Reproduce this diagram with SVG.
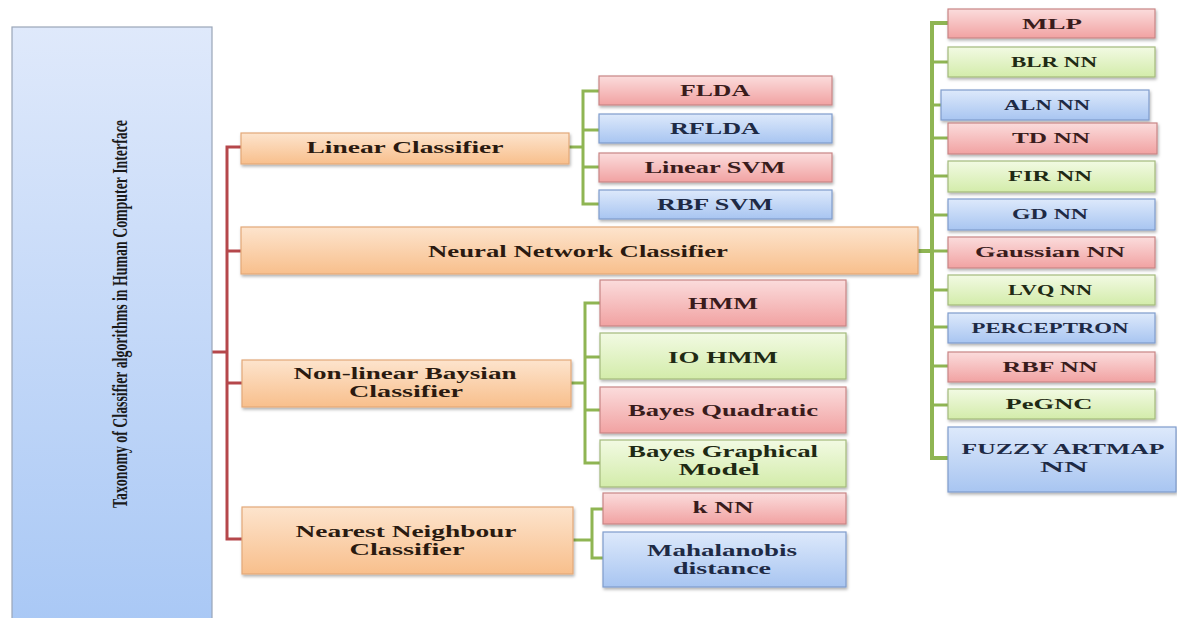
<svg xmlns="http://www.w3.org/2000/svg" width="1177" height="618" viewBox="0 0 1177 618">
<style>
.t{font-family:"Liberation Serif","Times New Roman",serif;font-weight:bold;text-anchor:middle;}
.s16{font-size:16px}
.s17{font-size:17px}
.s15{font-size:15px}
.or{fill:url(#gO);stroke:#e3a878;stroke-width:1.2;filter:url(#sh)}
.rd{fill:url(#gR);stroke:#c98585;stroke-width:1.2;filter:url(#sh)}
.bl{fill:url(#gB);stroke:#7f9ccc;stroke-width:1.2;filter:url(#sh)}
.gr{fill:url(#gG);stroke:#a3ba7c;stroke-width:1.2;filter:url(#sh)}
.tr{fill:#3a1c1c}.tb{fill:#1e2a45}.tg{fill:#1f2a14}.to{fill:#2a1a10}
.rl{stroke:#b5474b;stroke-width:3;fill:none}
.gl{stroke:#8fb553;stroke-width:3;fill:none}
</style>
<defs>
<linearGradient id="gO" x1="0" y1="0" x2="0" y2="1"><stop offset="0" stop-color="#fde4cd"/><stop offset="1" stop-color="#f8bf8c"/></linearGradient>
<linearGradient id="gR" x1="0" y1="0" x2="0" y2="1"><stop offset="0" stop-color="#fbdcdc"/><stop offset="1" stop-color="#f1a2a2"/></linearGradient>
<linearGradient id="gB" x1="0" y1="0" x2="0" y2="1"><stop offset="0" stop-color="#dde9fb"/><stop offset="1" stop-color="#a8c5f1"/></linearGradient>
<linearGradient id="gG" x1="0" y1="0" x2="0" y2="1"><stop offset="0" stop-color="#f2fae3"/><stop offset="1" stop-color="#d3ecaa"/></linearGradient>
<linearGradient id="gP" x1="0" y1="0" x2="0" y2="1"><stop offset="0" stop-color="#dfe9fb"/><stop offset="1" stop-color="#a9c8f5"/></linearGradient>
<filter id="sh" x="-5%" y="-20%" width="110%" height="150%"><feDropShadow dx="1" dy="2" stdDeviation="1.5" flood-color="#000" flood-opacity="0.3"/></filter>
</defs>
<rect width="1177" height="618" fill="#fff"/>

<g id="connectors">
<polyline class="rl" points="241,147 227,147 227,539 242,539"/>
<line class="rl" x1="212" y1="352" x2="227" y2="352"/>
<line class="rl" x1="227" y1="251" x2="241" y2="251"/>
<line class="rl" x1="227" y1="383" x2="242" y2="383"/>
<line class="gl" x1="569" y1="147" x2="583" y2="147"/>
<polyline class="gl" points="599,91 583,91 583,204 599,204"/>
<line class="gl" x1="583" y1="130" x2="599" y2="130"/>
<line class="gl" x1="583" y1="167" x2="599" y2="167"/>
<line class="gl" x1="571" y1="383" x2="585" y2="383"/>
<polyline class="gl" points="600,303 585,303 585,463 600,463"/>
<line class="gl" x1="585" y1="357" x2="600" y2="357"/>
<line class="gl" x1="585" y1="410" x2="600" y2="410"/>
<line class="gl" x1="573" y1="540" x2="592" y2="540"/>
<polyline class="gl" points="603,509 592,509 592,558 603,558"/>
<line class="gl" x1="918" y1="251" x2="932" y2="251" style="stroke-width:4"/>
<polyline class="gl" points="948,23 932,23 932,458 948,458" style="stroke-width:4"/>
<g class="gl">
<line x1="932" y1="62" x2="948" y2="62"/>
<line x1="932" y1="105" x2="941" y2="105"/>
<line x1="932" y1="138" x2="948" y2="138"/>
<line x1="932" y1="176" x2="948" y2="176"/>
<line x1="932" y1="215" x2="948" y2="215"/>
<line x1="932" y1="251" x2="948" y2="251"/>
<line x1="932" y1="290" x2="948" y2="290"/>
<line x1="932" y1="327" x2="948" y2="327"/>
<line x1="932" y1="366" x2="948" y2="366"/>
<line x1="932" y1="405" x2="948" y2="405"/>
</g>
</g>

<g id="root">
<rect x="12" y="27" width="200" height="600" fill="url(#gP)" stroke="#9aa6b8" stroke-width="1.2"/>
<text class="t" font-size="20" fill="#1a1a1a" transform="translate(127,314) rotate(-90)" textLength="388" lengthAdjust="spacingAndGlyphs">Taxonomy of Classifier algorithms in Human Computer Interface</text>
</g>

<g id="linear">
<rect class="or" x="241" y="133" width="328" height="31"/>
<text class="t s17 to" x="405" y="153" textLength="197" lengthAdjust="spacingAndGlyphs">Linear Classifier</text>
</g>
<g id="neural">
<rect class="or" x="241" y="227" width="677" height="47"/>
<text class="t s17 to" x="578" y="257" textLength="300" lengthAdjust="spacingAndGlyphs">Neural Network Classifier</text>
</g>
<g id="nonlinear">
<rect class="or" x="242" y="360" width="329" height="47"/>
<text class="t s17 to" x="405" y="379" textLength="223" lengthAdjust="spacingAndGlyphs">Non-linear Baysian</text>
<text class="t s17 to" x="406" y="397" textLength="114" lengthAdjust="spacingAndGlyphs">Classifier</text>
</g>
<g id="nearest">
<rect class="or" x="242" y="507" width="331" height="67"/>
<text class="t s17 to" x="406" y="537" textLength="221" lengthAdjust="spacingAndGlyphs">Nearest Neighbour</text>
<text class="t s17 to" x="407" y="555" textLength="115" lengthAdjust="spacingAndGlyphs">Classifier</text>
</g>

<g id="flda"><rect class="rd" x="599" y="76" width="233" height="29"/><text class="t s17 tr" x="715" y="96" textLength="70" lengthAdjust="spacingAndGlyphs">FLDA</text></g>
<g id="rflda"><rect class="bl" x="599" y="114" width="233" height="29"/><text class="t s17 tb" x="715" y="134" textLength="90" lengthAdjust="spacingAndGlyphs">RFLDA</text></g>
<g id="linearsvm"><rect class="rd" x="599" y="153" width="233" height="29"/><text class="t s17 tr" x="715" y="173" textLength="141" lengthAdjust="spacingAndGlyphs">Linear SVM</text></g>
<g id="rbfsvm"><rect class="bl" x="599" y="190" width="233" height="29"/><text class="t s17 tb" x="715" y="210" textLength="116" lengthAdjust="spacingAndGlyphs">RBF SVM</text></g>

<g id="hmm"><rect class="rd" x="600" y="280" width="246" height="46"/><text class="t s17 tr" x="723" y="309" textLength="70" lengthAdjust="spacingAndGlyphs">HMM</text></g>
<g id="iohmm"><rect class="gr" x="600" y="333" width="246" height="46"/><text class="t s17 tg" x="723" y="363" textLength="110" lengthAdjust="spacingAndGlyphs">IO HMM</text></g>
<g id="bayesq"><rect class="rd" x="600" y="387" width="246" height="46"/><text class="t s17 tr" x="723" y="416" textLength="190" lengthAdjust="spacingAndGlyphs">Bayes Quadratic</text></g>
<g id="bayesg"><rect class="gr" x="600" y="440" width="246" height="47"/><text class="t s17 tg" x="723" y="457" textLength="190" lengthAdjust="spacingAndGlyphs">Bayes Graphical</text><text class="t s17 tg" x="719" y="475" textLength="81" lengthAdjust="spacingAndGlyphs">Model</text></g>

<g id="knn"><rect class="rd" x="603" y="493" width="243" height="31"/><text class="t s17 tr" x="723" y="513" textLength="61" lengthAdjust="spacingAndGlyphs">k NN</text></g>
<g id="mahal"><rect class="bl" x="603" y="532" width="243" height="55"/><text class="t s17 tb" x="722" y="556" textLength="150" lengthAdjust="spacingAndGlyphs">Mahalanobis</text><text class="t s17 tb" x="722" y="574" textLength="98" lengthAdjust="spacingAndGlyphs">distance</text></g>

<g id="mlp"><rect class="rd" x="948" y="9" width="207" height="29"/><text class="t s15 tr" x="1052" y="29" textLength="60" lengthAdjust="spacingAndGlyphs">MLP</text></g>
<g id="blrnn"><rect class="gr" x="948" y="47" width="207" height="30"/><text class="t s15 tg" x="1054" y="67" textLength="86" lengthAdjust="spacingAndGlyphs">BLR NN</text></g>
<g id="alnnn"><rect class="bl" x="941" y="90" width="208" height="30"/><text class="t s15 tb" x="1047" y="110" textLength="86" lengthAdjust="spacingAndGlyphs">ALN NN</text></g>
<g id="tdnn"><rect class="rd" x="948" y="123" width="209" height="31"/><text class="t s15 tr" x="1051" y="143" textLength="78" lengthAdjust="spacingAndGlyphs">TD NN</text></g>
<g id="firnn"><rect class="gr" x="948" y="161" width="207" height="31"/><text class="t s15 tg" x="1050" y="181" textLength="84" lengthAdjust="spacingAndGlyphs">FIR NN</text></g>
<g id="gdnn"><rect class="bl" x="948" y="199" width="207" height="31"/><text class="t s15 tb" x="1050" y="219" textLength="76" lengthAdjust="spacingAndGlyphs">GD NN</text></g>
<g id="gaussnn"><rect class="rd" x="948" y="237" width="207" height="31"/><text class="t s15 tr" x="1050" y="257" textLength="150" lengthAdjust="spacingAndGlyphs">Gaussian NN</text></g>
<g id="lvqnn"><rect class="gr" x="948" y="275" width="207" height="30"/><text class="t s15 tg" x="1050" y="295" textLength="84" lengthAdjust="spacingAndGlyphs">LVQ NN</text></g>
<g id="perceptron"><rect class="bl" x="948" y="313" width="207" height="30"/><text class="t s15 tb" x="1050" y="333" textLength="157" lengthAdjust="spacingAndGlyphs">PERCEPTRON</text></g>
<g id="rbfnn"><rect class="rd" x="948" y="352" width="207" height="30"/><text class="t s15 tr" x="1050" y="372" textLength="95" lengthAdjust="spacingAndGlyphs">RBF NN</text></g>
<g id="pegnc"><rect class="gr" x="948" y="389" width="207" height="30"/><text class="t s15 tg" x="1049" y="409" textLength="87" lengthAdjust="spacingAndGlyphs">PeGNC</text></g>
<g id="fuzzy"><rect class="bl" x="948" y="427" width="228" height="65"/><text class="t s15 tb" x="1063" y="454" textLength="203" lengthAdjust="spacingAndGlyphs">FUZZY ARTMAP</text><text class="t s15 tb" x="1064" y="472" textLength="48" lengthAdjust="spacingAndGlyphs">NN</text></g>
</svg>
